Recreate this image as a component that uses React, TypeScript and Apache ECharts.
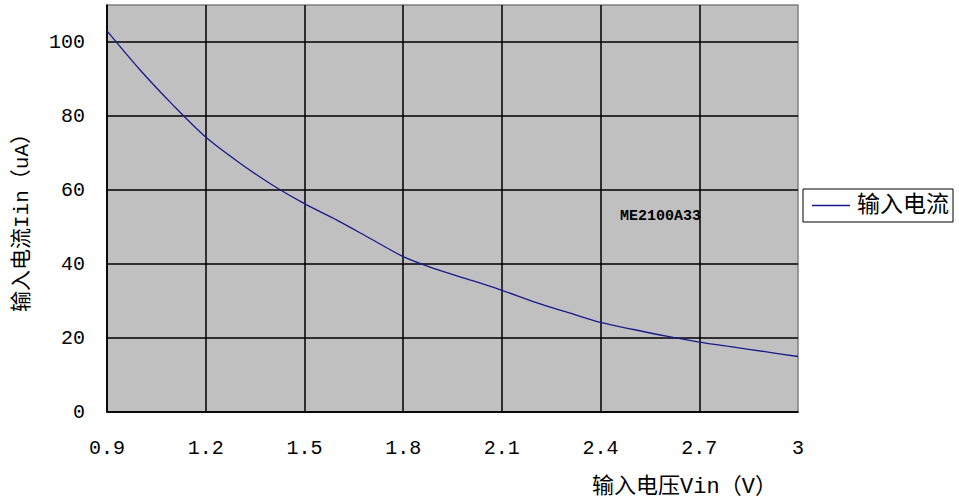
import React, { useEffect, useRef } from "react";
import * as echarts from "echarts";

const vin: number[] = [0.9, 1.0, 1.1, 1.2, 1.3, 1.4, 1.5, 1.6, 1.7, 1.8, 1.9, 2.0, 2.1, 2.2, 2.3, 2.4, 2.5, 2.6, 2.7, 2.8, 2.9, 3.0];
const iin: number[] = [103, 92.5, 83, 74.3, 67.5, 61.5, 56.3, 51.8, 46.9, 42.0, 38.6, 35.8, 32.9, 29.7, 26.9, 24.2, 22.3, 20.5, 18.9, 17.6, 16.3, 15.0];
const seriesName = "输入电流";
const xAxisTitle = "输入电压Vin（V）";
const yAxisTitle = "输入电流Iin（uA）";
const annotation = "ME2100A33";

const FONT = "'Liberation Mono', 'Noto Sans CJK SC', monospace";

export default function App() {
  const ref = useRef<HTMLDivElement>(null);
  useEffect(() => {
    if (!ref.current) return;
    const chart = echarts.init(ref.current, undefined, { renderer: "svg" });
    chart.setOption({
      animation: false,
      backgroundColor: "#ffffff",
      textStyle: { fontFamily: FONT, color: "#000" },
      grid: {
        show: true,
        left: 107,
        top: 5,
        right: 161,
        bottom: 92,
        outerBoundsMode: "none",
        containLabel: false,
        backgroundColor: "#C0C0C0",
        borderColor: "#808080",
        borderWidth: 1.5,
      },
      legend: {
        data: [seriesName],
        left: 803,
        top: 189,
        orient: "vertical",
        backgroundColor: "#ffffff",
        borderColor: "#000",
        borderWidth: 1,
        borderRadius: 0,
        padding: [5, 4, 5, 9],
        icon: "rect",
        itemWidth: 38,
        itemHeight: 1.5,
        itemGap: 0,
        textStyle: { fontFamily: FONT, fontSize: 23, color: "#000", padding: [0, 0, 0, 2] },
      },
      xAxis: {
        type: "value",
        min: 0.9,
        max: 3,
        interval: 0.3,
        name: xAxisTitle,
        nameLocation: "middle",
        nameGap: 64,
        nameTextStyle: { fontFamily: FONT, fontSize: 22, color: "#000", padding: [0, 0, 0, 464] },
        axisLine: { show: true, lineStyle: { color: "#000", width: 1.5 } },
        axisTick: { show: false },
        axisLabel: {
          fontFamily: FONT,
          fontSize: 20,
          color: "#000",
          margin: 26,
          formatter: (v: number) => Number(v.toFixed(1)).toString(),
        },
        splitLine: { show: true, showMaxLine: false, lineStyle: { color: "#000", width: 1.5 } },
      },
      yAxis: {
        type: "value",
        min: 0,
        max: 110,
        interval: 20,
        name: yAxisTitle,
        nameLocation: "middle",
        nameRotate: 90,
        nameGap: 74,
        nameTextStyle: { fontFamily: FONT, fontSize: 21, color: "#000", padding: [0, 18, 0, 0] },
        axisLine: { show: true, lineStyle: { color: "#000", width: 1.5 } },
        axisTick: { show: false },
        axisLabel: {
          fontFamily: FONT,
          fontSize: 20,
          color: "#000",
          margin: 22,
          showMaxLabel: false,
        },
        splitLine: { show: true, showMaxLine: false, lineStyle: { color: "#000", width: 1.5 } },
      },
      graphic: [
        {
          type: "text",
          x: 620,
          y: 216,
          style: {
            text: annotation,
            font: "bold 15px 'Liberation Mono', monospace",
            fill: "#000",
            textAlign: "left",
            textVerticalAlign: "middle",
          },
        },
      ],
      series: [
        {
          name: seriesName,
          type: "line",
          data: vin.map((x, i) => [x, iin[i]]),
          symbol: "none",
          showSymbol: false,
          smooth: 0.3,
          lineStyle: { color: "#1a1a8c", width: 1.3 },
          itemStyle: { color: "#1a1a8c" },
        },
      ],
    });
    return () => chart.dispose();
  }, []);
  return (
    <div
      ref={ref}
      style={{ position: "absolute", left: 0, top: 0, width: 959, height: 504 }}
    />
  );
}
